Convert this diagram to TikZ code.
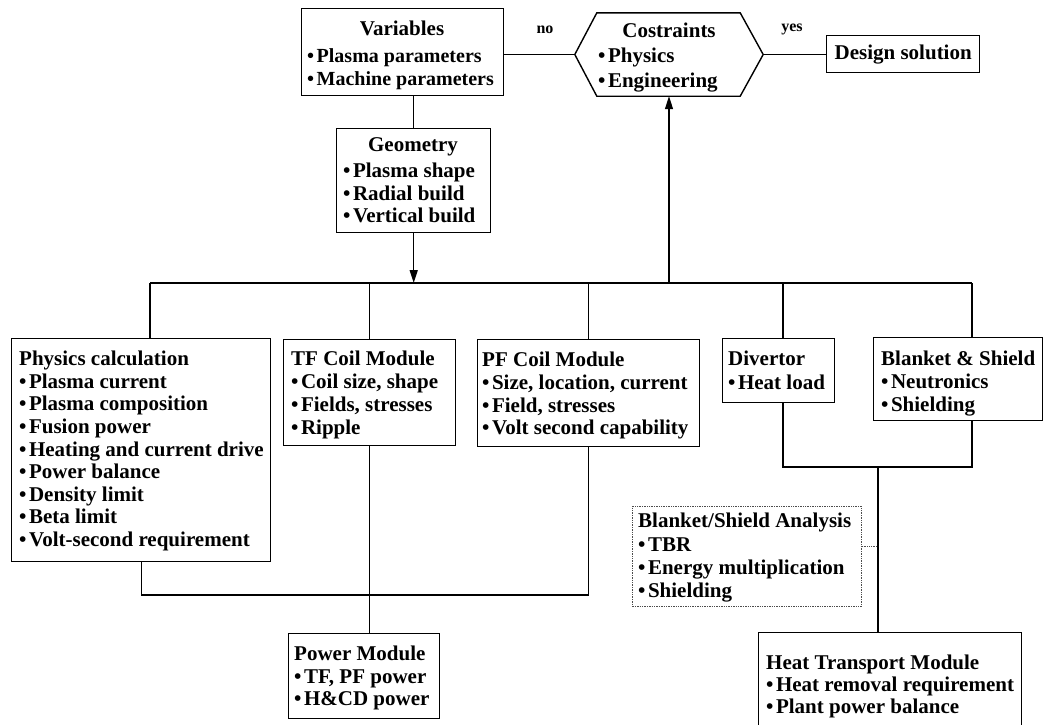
\documentclass[tikz,border=0pt]{standalone}
\usepackage{fontspec}
\setmainfont{Liberation Serif}
\usetikzlibrary{arrows.meta,calc}
\newcommand\bl{•\hspace{2.5pt}}
\begin{document}
\begin{tikzpicture}[x=1pt,y=-1pt,
 box/.style={draw, line width=1.4pt, inner sep=0pt, anchor=north west},
 ln/.style={line width=1.4pt},
 arr/.style={line width=1.4pt, -{Triangle[length=13pt,width=8pt]}},
 txt/.style={anchor=north west, inner sep=0pt, align=left, font=\bfseries\fontsize{21}{#1}\selectfont},
 ttl/.style={inner sep=0pt, font=\bfseries\fontsize{21}{22}\selectfont},
 lbl/.style={inner sep=0pt, font=\bfseries\fontsize{16}{18}\selectfont},
 dot/.style={densely dotted, line width=0.8pt, draw=black!70}]
\useasboundingbox (0,0) rectangle (1045,724);
% top row
\node[box, minimum width=202pt, minimum height=87pt] (var) at (301,8) {};
\node[ttl] (varT) at (402,28) {Variables};
\node[txt=23.5, font=\bfseries\fontsize{20}{23.5}\selectfont] (varL) at (307,48) {\bl Plasma parameters\\\bl Machine parameters};
\node[box, minimum width=154pt, minimum height=104pt] (geo) at (336,128) {};
\node[ttl] (geoT) at (413,147) {Geometry};
\node[txt=22.6] (geoL) at (343,163) {\bl Plasma shape\\\bl Radial build\\\bl Vertical build};
\node[inner sep=0pt, minimum width=188pt, minimum height=83pt] (hex) at (669,54.5) {};
\draw[ln] (hex.west) -- ($(hex.north west)+(22,0)$) -- ($(hex.north east)+(-23,0)$) -- (hex.east)
  -- ($(hex.south east)+(-23,0)$) -- ($(hex.south west)+(22,0)$) -- cycle;
\node[ttl] (hexT) at (669,30) {Costraints};
\node[txt=25] (hexL) at (598,48) {\bl Physics\\\bl Engineering};
\node[box, minimum width=153pt, minimum height=37pt] (des) at (826,35) {};
\node[ttl] (desT) at (des.center) {Design solution};
\node[lbl] (no) at (545,30) {no};
\node[lbl] (yes) at (792,29) {yes};
% module row
\node[box, minimum width=259pt, minimum height=223pt] (phys) at (11,338) {};
\node[txt=22.6] (physL) at (19,351) {Physics calculation\\\bl Plasma current\\\bl Plasma composition\\\bl Fusion power\\\bl Heating and current drive\\\bl Power balance\\\bl Density limit\\\bl Beta limit\\\bl Volt-second requirement};
\node[box, minimum width=172pt, minimum height=106pt] (tf) at (283,339) {};
\node[txt=23] (tfL) at (291,351) {TF Coil Module\\\bl Coil size, shape\\\bl Fields, stresses\\\bl Ripple};
\node[box, minimum width=222pt, minimum height=107pt] (pf) at (477,339) {};
\node[txt=22.7] (pfL) at (482,352) {PF Coil Module\\\bl Size, location, current\\\bl Field, stresses\\\bl Volt second capability};
\node[box, minimum width=112pt, minimum height=64pt] (div) at (722,338) {};
\node[txt=24] (divL) at (728,351) {Divertor\\\bl Heat load};
\node[box, minimum width=169pt, minimum height=83pt] (bs) at (873,337) {};
\node[txt=23] (bsL) at (881,351) {Blanket \& Shield\\\bl Neutronics\\\bl Shielding};
% lower row
\node[box, minimum width=151pt, minimum height=85pt] (power) at (288,633) {};
\node[txt=22.5] (powerL) at (294,646) {Power Module\\\bl TF, PF power\\\bl H\&CD power};
\node[box, dot, minimum width=229pt, minimum height=100pt] (bsa) at (632,506) {};
\node[txt=23.3] (bsaL) at (638,513) {Blanket/Shield Analysis\\\bl TBR\\\bl Energy multiplication\\\bl Shielding};
\node[box, minimum width=263pt, minimum height=95pt] (ht) at (758,632) {};
\node[txt=22] (htL) at (766,655) {Heat Transport Module\\\bl Heat removal requirement\\\bl Plant power balance};
% connectors
\draw[ln] (geo.north |- var.south) -- (geo.north);
\draw[ln] (var.east |- hex.west) -- (hex.west);
\draw[ln] (hex.east) -- (hex.east -| des.west);
\coordinate (bL) at (150,283);
\coordinate (bR) at (972,283);
\coordinate (bD) at (783,283);
\draw[ln] (bL) -- (bR);
\draw[arr] (geo.south) -- (geo.south |- bL);
\draw[arr] (hex.south |- bL) -- (hex.south);
\draw[ln] (bL) -- (bL |- phys.north);
\draw[ln] (tf.north |- bL) -- (tf.north);
\draw[ln] (pf.north |- bL) -- (pf.north);
\draw[ln] (bD) -- (bD |- div.north);
\draw[ln] (bR) -- (bR |- bs.north);
\coordinate (lp) at (0,595);
\draw[ln] (phys.south) |- (pf.south |- lp) -- (pf.south);
\draw[ln] (tf.south) -- (tf.south |- power.north);
\coordinate (hJ) at (878,467);
\draw[ln] (bD |- div.south) |- (hJ) -| (bR |- bs.south);
\draw[ln] (hJ) -- (hJ |- ht.north);
\coordinate (dc) at ($(bsa.east)+(0,-10)$);
\draw[dot] (dc) -- (dc -| hJ);
\end{tikzpicture}
\end{document}
